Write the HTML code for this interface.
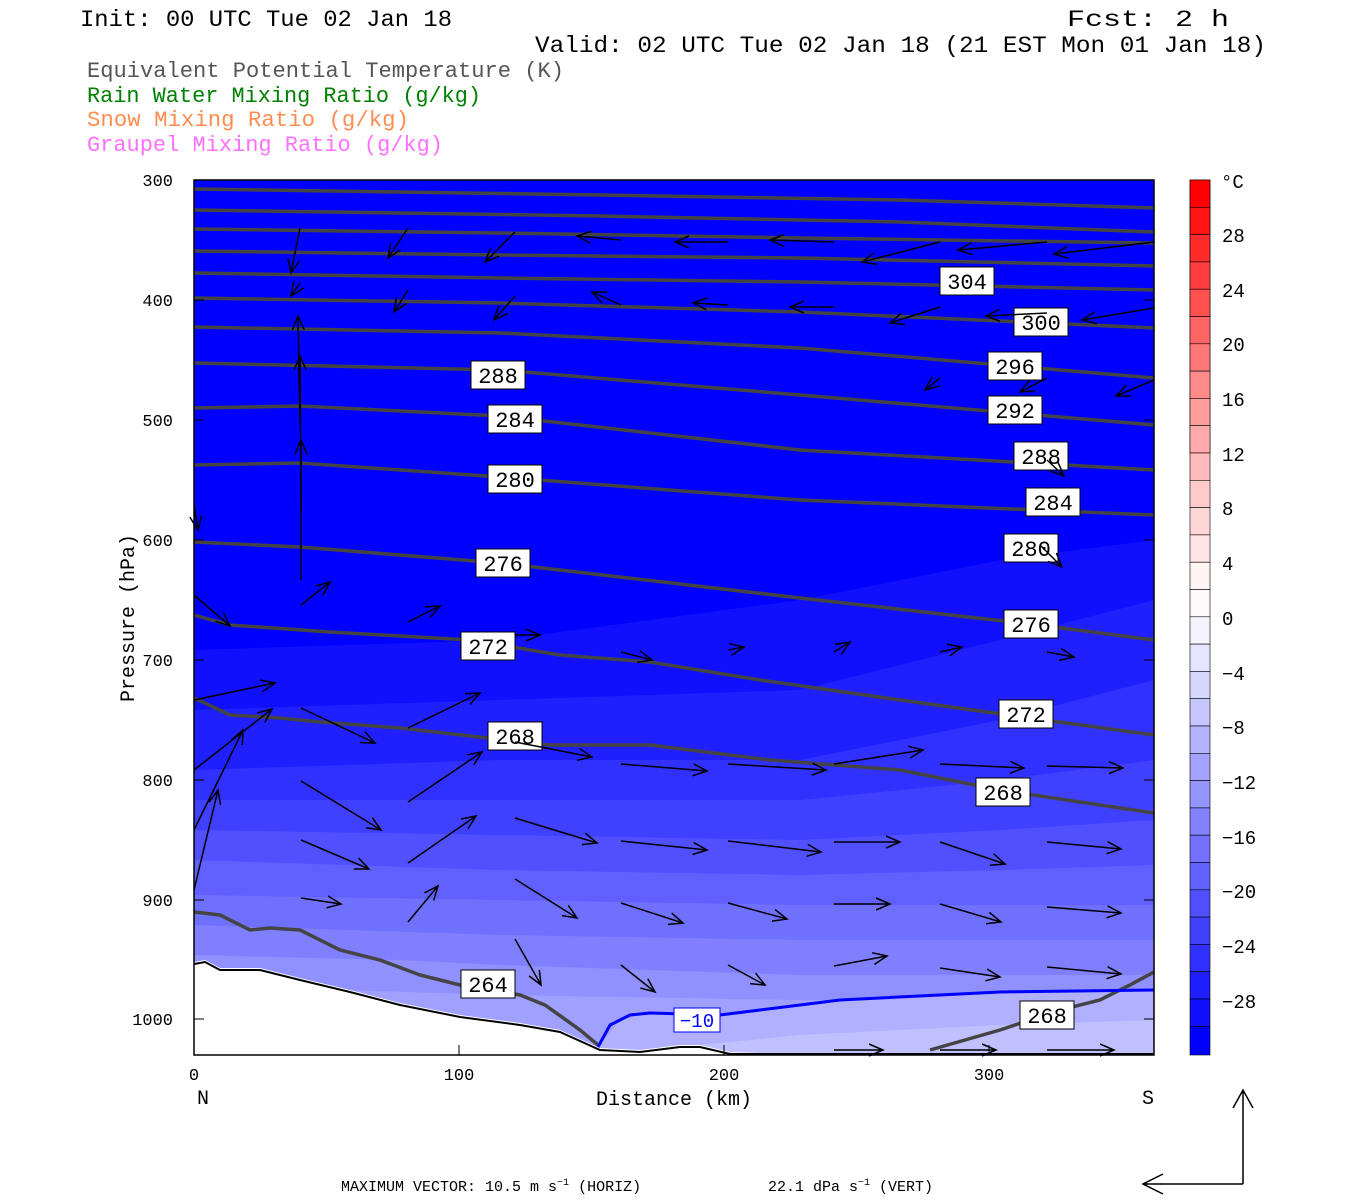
<!DOCTYPE html>
<html><head><meta charset="utf-8"><style>
body{margin:0;background:#fff;}
svg{display:block;}
text{font-family:"Liberation Mono","DejaVu Sans Mono",monospace;}
</style></head><body>
<svg width="1350" height="1200" viewBox="0 0 1350 1200" xmlns="http://www.w3.org/2000/svg">
<defs>
<marker id="ah" markerUnits="userSpaceOnUse" markerWidth="20" markerHeight="20" refX="14" refY="7" orient="auto">
<path d="M0,1 L14,7 L0,13" fill="none" stroke="#000" stroke-width="1.5"/>
</marker>
<clipPath id="pc"><rect x="194" y="180" width="960" height="875"/></clipPath>
</defs>

<!-- titles -->
<text x="80" y="26" font-size="23" textLength="372" lengthAdjust="spacingAndGlyphs">Init: 00 UTC Tue 02 Jan 18</text>
<text x="1067" y="26" font-size="23" textLength="162" lengthAdjust="spacingAndGlyphs">Fcst:   2 h</text>
<text x="535" y="52" font-size="23" textLength="731" lengthAdjust="spacingAndGlyphs">Valid: 02 UTC Tue 02 Jan 18 (21 EST Mon 01 Jan 18)</text>
<text x="87" y="77" font-size="22" fill="#555" textLength="477" lengthAdjust="spacingAndGlyphs">Equivalent Potential Temperature (K)</text>
<text x="87" y="102" font-size="22" fill="#008000" textLength="394" lengthAdjust="spacingAndGlyphs">Rain Water Mixing Ratio (g/kg)</text>
<text x="87" y="126" font-size="22" fill="#ff8c50" textLength="322" lengthAdjust="spacingAndGlyphs">Snow Mixing Ratio (g/kg)</text>
<text x="87" y="151" font-size="22" fill="#ff70ff" textLength="356" lengthAdjust="spacingAndGlyphs">Graupel Mixing Ratio (g/kg)</text>

<!-- fill -->
<g clip-path="url(#pc)">
<rect x="194" y="180" width="960" height="875" fill="#0000ff"/>
<path d="M194,650 L500,640 L800,600 L1000,560 L1154,540 L1154,1060 L194,1060Z" fill="#1010ff"/>
<path d="M194,710 L500,700 L800,690 L1000,640 L1154,600 L1154,1060 L194,1060Z" fill="#2020ff"/>
<path d="M194,770 L500,760 L800,760 L1000,720 L1154,680 L1154,1060 L194,1060Z" fill="#3030ff"/>
<path d="M194,800 L500,800 L800,800 L1000,780 L1154,760 L1154,1060 L194,1060Z" fill="#4040ff"/>
<path d="M194,830 L500,835 L800,840 L1000,830 L1154,820 L1154,1060 L194,1060Z" fill="#5050ff"/>
<path d="M194,860 L500,870 L800,875 L1000,870 L1154,865 L1154,1060 L194,1060Z" fill="#6060ff"/>
<path d="M194,895 L500,900 L800,905 L1000,905 L1154,905 L1154,1060 L194,1060Z" fill="#7070ff"/>
<path d="M194,925 L500,935 L800,940 L1000,940 L1154,940 L1154,1060 L194,1060Z" fill="#8080ff"/>
<path d="M194,955 L400,960 L500,965 L800,975 L1000,975 L1154,975 L1154,1060 L194,1060Z" fill="#9090ff"/>
<path d="M194,985 L500,995 L800,1000 L1000,1000 L1154,995 L1154,1060 L194,1060Z" fill="#a0a0ff"/>
<path d="M600,1045 L620,1020 L650,1013 L720,1015 L760,1010 L840,1000 L1000,992 L1154,990 L1154,1060 L600,1060Z" fill="#b0b0ff"/>
<path d="M700,1045 L800,1035 L1000,1025 L1154,1020 L1154,1060 L700,1060Z" fill="#c0c0ff"/>
<!-- terrain -->
<path d="M194,962 L205,960 L220,968 L260,968 L300,978 L350,990 L400,1003 L460,1015 L520,1023 L560,1030 L600,1048 L640,1050 L680,1045 L700,1045 L730,1052 L760,1053 L1154,1053 L1154,1060 L194,1060Z" fill="#fff"/>
<path d="M194,964 L205,962 L220,970 L260,970 L300,980 L350,992 L400,1005 L460,1017 L520,1025 L560,1032 L600,1050 L640,1052 L680,1047 L700,1047 L730,1054 L1154,1054" fill="none" stroke="#000" stroke-width="2"/>
<!-- theta contours -->
<g fill="none" stroke="#444" stroke-width="3.5">
<path d="M194,189 L600,195 L900,200 L1154,208"/>
<path d="M194,210 L600,216 L900,222 L1154,232"/>
<path d="M194,229 L500,233 L800,238 L1154,243"/>
<path d="M194,251 L500,255 L800,258 L1154,266"/>
<path d="M194,273 L500,278 L800,282 L1154,290"/>
<path d="M194,298 L500,303 L800,312 L1154,328"/>
<path d="M194,327 L500,333 L800,348 L1154,378"/>
<path d="M194,363 L500,370 L800,395 L1154,425"/>
<path d="M194,408 L300,406 L500,416 L800,450 L1154,470"/>
<path d="M194,465 L300,463 L500,477 L800,500 L1154,515"/>
<path d="M194,542 L300,547 L500,563 L800,598 L1030,624 L1154,640"/>
<path d="M194,615 L230,625 L330,632 L470,640 L560,655 L650,662 L760,680 L900,700 L1030,718 L1154,735"/>
<path d="M194,698 L230,715 L280,718 L320,722 L400,728 L550,745 L650,745 L770,760 L900,770 L1000,790 L1100,805 L1154,813"/>
<path d="M194,912 L220,915 L250,930 L270,928 L300,930 L340,950 L380,960 L420,975 L460,985 L520,995 L545,1005 L580,1030 L598,1045"/>
<path d="M930,1050 L1000,1030 L1060,1010 L1100,1000 L1130,985 L1154,972"/>
</g>
<path d="M598,1047 L610,1025 L630,1015 L650,1013 L720,1015 L760,1010 L840,1000 L1000,992 L1154,990" fill="none" stroke="#0000ff" stroke-width="3"/>
</g>

<!-- contour labels -->
<g font-size="22" text-anchor="middle" font-family="Liberation Serif, serif">
<g fill="#fff" stroke="#000" stroke-width="1">
<rect x="940" y="267" width="54" height="28"/><rect x="1014" y="308" width="54" height="28"/>
<rect x="988" y="352" width="54" height="28"/><rect x="988" y="396" width="54" height="28"/>
<rect x="1014" y="442" width="54" height="28"/><rect x="1026" y="488" width="54" height="28"/>
<rect x="1004" y="534" width="54" height="28"/><rect x="1004" y="610" width="54" height="28"/>
<rect x="999" y="700" width="54" height="28"/><rect x="976" y="778" width="54" height="28"/>
<rect x="471" y="361" width="54" height="28"/><rect x="488" y="405" width="54" height="28"/>
<rect x="488" y="465" width="54" height="28"/><rect x="476" y="549" width="54" height="28"/>
<rect x="461" y="632" width="54" height="28"/><rect x="488" y="722" width="54" height="28"/>
<rect x="461" y="970" width="54" height="28"/><rect x="1020" y="1001" width="54" height="28"/>
</g>
<text x="967" y="289">304</text><text x="1041" y="330">300</text><text x="1015" y="374">296</text>
<text x="1015" y="418">292</text><text x="1041" y="464">288</text><text x="1053" y="510">284</text>
<text x="1031" y="556">280</text><text x="1031" y="632">276</text><text x="1026" y="722">272</text>
<text x="1003" y="800">268</text><text x="498" y="383">288</text><text x="515" y="427">284</text>
<text x="515" y="487">280</text><text x="503" y="571">276</text><text x="488" y="654">272</text>
<text x="515" y="744">268</text><text x="488" y="992">264</text><text x="1047" y="1023">268</text>
<rect x="674" y="1008" width="46" height="24" fill="#fff" stroke="#0000ff"/>
<text x="697" y="1027" fill="#0000ff" font-size="19">−10</text>
</g>

<!-- arrows -->
<g stroke="#000" stroke-width="1.5" marker-end="url(#ah)">
<line x1="300" y1="228" x2="291" y2="273"/><line x1="408" y1="228" x2="388" y2="258"/><line x1="515" y1="232" x2="485" y2="262"/>
<line x1="621" y1="240" x2="577" y2="236"/><line x1="728" y1="242" x2="675" y2="242"/><line x1="834" y1="242" x2="770" y2="240"/>
<line x1="940" y1="242" x2="862" y2="262"/><line x1="1047" y1="242" x2="958" y2="250"/><line x1="1154" y1="242" x2="1054" y2="254"/>
<line x1="300" y1="283" x2="291" y2="296"/><line x1="408" y1="290" x2="394" y2="312"/><line x1="515" y1="296" x2="494" y2="320"/>
<line x1="621" y1="305" x2="592" y2="292"/><line x1="728" y1="305" x2="693" y2="303"/><line x1="834" y1="307" x2="790" y2="307"/>
<line x1="940" y1="307" x2="890" y2="323"/><line x1="1047" y1="313" x2="986" y2="316"/><line x1="1154" y1="308" x2="1082" y2="320"/>
<line x1="300" y1="425" x2="298" y2="316"/><line x1="301" y1="510" x2="300" y2="356"/><line x1="301" y1="580" x2="301" y2="440"/>
<line x1="1047" y1="378" x2="1020" y2="392"/><line x1="940" y1="378" x2="925" y2="390"/><line x1="1154" y1="380" x2="1116" y2="396"/>
<line x1="1047" y1="460" x2="1064" y2="476"/><line x1="1040" y1="545" x2="1062" y2="567"/>
<line x1="194" y1="505" x2="198" y2="530"/><line x1="301" y1="605" x2="330" y2="582"/><line x1="408" y1="622" x2="440" y2="606"/>
<line x1="194" y1="595" x2="230" y2="626"/><line x1="515" y1="635" x2="540" y2="635"/><line x1="621" y1="652" x2="652" y2="660"/>
<line x1="728" y1="650" x2="744" y2="647"/><line x1="834" y1="652" x2="850" y2="642"/><line x1="940" y1="652" x2="962" y2="647"/>
<line x1="1047" y1="652" x2="1074" y2="657"/>
<line x1="194" y1="700" x2="275" y2="683"/><line x1="301" y1="708" x2="375" y2="743"/><line x1="408" y1="728" x2="480" y2="693"/>
<line x1="515" y1="742" x2="592" y2="757"/><line x1="621" y1="764" x2="707" y2="771"/><line x1="728" y1="764" x2="826" y2="770"/>
<line x1="834" y1="764" x2="923" y2="750"/><line x1="940" y1="764" x2="1024" y2="768"/><line x1="1047" y1="766" x2="1123" y2="768"/>
<line x1="194" y1="770" x2="272" y2="709"/><line x1="194" y1="830" x2="243" y2="730"/><line x1="194" y1="890" x2="218" y2="790"/>
<line x1="301" y1="781" x2="381" y2="830"/><line x1="408" y1="802" x2="482" y2="752"/>
<line x1="515" y1="818" x2="597" y2="843"/><line x1="621" y1="841" x2="707" y2="850"/><line x1="728" y1="841" x2="821" y2="852"/>
<line x1="834" y1="842" x2="900" y2="842"/><line x1="940" y1="842" x2="1005" y2="864"/><line x1="1047" y1="842" x2="1121" y2="849"/>
<line x1="301" y1="840" x2="369" y2="869"/><line x1="408" y1="863" x2="476" y2="816"/>
<line x1="301" y1="898" x2="341" y2="904"/><line x1="408" y1="922" x2="438" y2="886"/><line x1="515" y1="879" x2="577" y2="918"/>
<line x1="621" y1="903" x2="683" y2="923"/><line x1="728" y1="903" x2="787" y2="919"/><line x1="834" y1="904" x2="890" y2="904"/>
<line x1="940" y1="904" x2="1001" y2="922"/><line x1="1047" y1="907" x2="1121" y2="913"/>
<line x1="515" y1="939" x2="541" y2="985"/><line x1="621" y1="965" x2="655" y2="992"/><line x1="728" y1="965" x2="765" y2="985"/>
<line x1="834" y1="966" x2="887" y2="956"/><line x1="940" y1="968" x2="1000" y2="977"/><line x1="1047" y1="967" x2="1121" y2="974"/>
<line x1="834" y1="1050" x2="883" y2="1050"/><line x1="940" y1="1050" x2="996" y2="1050"/><line x1="1047" y1="1050" x2="1114" y2="1050"/>
</g>

<!-- frame & ticks -->
<rect x="194" y="180" width="960" height="875" fill="none" stroke="#000" stroke-width="1.5"/>
<g stroke="#000" stroke-width="1">
<path d="M194,180h10M194,300h10M194,420h10M194,540h10M194,660h10M194,780h10M194,900h10M194,1019h10
M1154,180h-10M1154,300h-10M1154,420h-10M1154,540h-10M1154,660h-10M1154,780h-10M1154,900h-10M1154,1019h-10
M459,1055v-10M724,1055v-10M989,1055v-10"/>
</g>
<g font-size="17" text-anchor="end" font-family="Liberation Serif, serif">
<text x="173" y="186">300</text><text x="173" y="306">400</text><text x="173" y="426">500</text>
<text x="173" y="546">600</text><text x="173" y="666">700</text><text x="173" y="786">800</text>
<text x="173" y="906">900</text><text x="173" y="1025">1000</text>
</g>
<g font-size="17" text-anchor="middle" font-family="Liberation Serif, serif">
<text x="194" y="1080">0</text><text x="459" y="1080">100</text><text x="724" y="1080">200</text><text x="989" y="1080">300</text>
<text x="203" y="1104" font-size="20">N</text><text x="1148" y="1104" font-size="20">S</text>
<text x="674" y="1105" font-size="20">Distance (km)</text>
<text transform="translate(134,618) rotate(-90)" font-size="20">Pressure (hPa)</text>
</g>

<!-- colorbar -->
<g stroke="#000" stroke-width="0.6">
<rect x="1190" y="180.0" width="20" height="13.7" fill="#ff0000"/><rect x="1190" y="193.7" width="20" height="13.7" fill="#ff1010"/>
<rect x="1190" y="207.3" width="20" height="13.7" fill="#ff2020"/><rect x="1190" y="221.0" width="20" height="13.7" fill="#ff3030"/>
<rect x="1190" y="234.7" width="20" height="13.7" fill="#ff4040"/><rect x="1190" y="248.4" width="20" height="13.7" fill="#ff5050"/>
<rect x="1190" y="262.0" width="20" height="13.7" fill="#ff6060"/><rect x="1190" y="275.7" width="20" height="13.7" fill="#ff7070"/>
<rect x="1190" y="289.4" width="20" height="13.7" fill="#ff8080"/><rect x="1190" y="303.0" width="20" height="13.7" fill="#ff9090"/>
<rect x="1190" y="316.7" width="20" height="13.7" fill="#ffa0a0"/><rect x="1190" y="330.4" width="20" height="13.7" fill="#ffb0b0"/>
<rect x="1190" y="344.1" width="20" height="13.7" fill="#ffc0c0"/><rect x="1190" y="357.7" width="20" height="13.7" fill="#ffd0d0"/>
<rect x="1190" y="371.4" width="20" height="13.7" fill="#ffe5e5"/><rect x="1190" y="385.1" width="20" height="13.7" fill="#fff5f5"/>
</g>
<g stroke="#000" stroke-width="0.6" transform="translate(0,218.75)">
<rect x="1190" y="180.0" width="20" height="27.3" fill="#ff1010"/><rect x="1190" y="207.3" width="20" height="27.3" fill="#ff2222"/>
</g>
<g stroke="#000" stroke-width="0.6">
<rect x="1190" y="180" width="20" height="27.3" fill="#ff0000"/><rect x="1190" y="207.3" width="20" height="27.3" fill="#ff1515"/>
<rect x="1190" y="234.6" width="20" height="27.3" fill="#ff2a2a"/><rect x="1190" y="261.9" width="20" height="27.3" fill="#ff3f3f"/>
<rect x="1190" y="289.2" width="20" height="27.3" fill="#ff5050"/><rect x="1190" y="316.5" width="20" height="27.3" fill="#ff6565"/>
<rect x="1190" y="343.8" width="20" height="27.3" fill="#ff7878"/><rect x="1190" y="371.1" width="20" height="27.3" fill="#ff8a8a"/>
<rect x="1190" y="398.4" width="20" height="27.3" fill="#ff9c9c"/><rect x="1190" y="425.7" width="20" height="27.3" fill="#ffaaaa"/>
<rect x="1190" y="453.0" width="20" height="27.3" fill="#ffbbbb"/><rect x="1190" y="480.3" width="20" height="27.3" fill="#ffcaca"/>
<rect x="1190" y="507.6" width="20" height="27.3" fill="#ffd6d6"/><rect x="1190" y="534.9" width="20" height="27.3" fill="#ffe4e4"/>
<rect x="1190" y="562.2" width="20" height="27.3" fill="#fff4f4"/><rect x="1190" y="589.5" width="20" height="27.3" fill="#fffafa"/>
<rect x="1190" y="616.8" width="20" height="27.3" fill="#f4f4ff"/><rect x="1190" y="644.1" width="20" height="27.3" fill="#e5e5ff"/>
<rect x="1190" y="671.4" width="20" height="27.3" fill="#d6d6ff"/><rect x="1190" y="698.7" width="20" height="27.3" fill="#c6c6ff"/>
<rect x="1190" y="726.0" width="20" height="27.3" fill="#b3b3ff"/><rect x="1190" y="753.3" width="20" height="27.3" fill="#a3a3ff"/>
<rect x="1190" y="780.6" width="20" height="27.3" fill="#9595ff"/><rect x="1190" y="807.9" width="20" height="27.3" fill="#8282ff"/>
<rect x="1190" y="835.2" width="20" height="27.3" fill="#7272ff"/><rect x="1190" y="862.5" width="20" height="27.3" fill="#6262ff"/>
<rect x="1190" y="889.8" width="20" height="27.3" fill="#5050ff"/><rect x="1190" y="917.1" width="20" height="27.3" fill="#4040ff"/>
<rect x="1190" y="944.4" width="20" height="27.3" fill="#3030ff"/><rect x="1190" y="971.7" width="20" height="27.3" fill="#2020ff"/>
<rect x="1190" y="999.0" width="20" height="27.3" fill="#1010ff"/><rect x="1190" y="1026.3" width="20" height="28.7" fill="#0000ff"/>
</g>
<g font-size="19" font-family="Liberation Serif, serif">
<text x="1221" y="188">°C</text>
<text x="1222" y="242">28</text><text x="1222" y="297">24</text><text x="1222" y="351">20</text>
<text x="1222" y="406">16</text><text x="1222" y="461">12</text><text x="1222" y="515">8</text>
<text x="1222" y="570">4</text><text x="1222" y="625">0</text><text x="1222" y="680">−4</text>
<text x="1222" y="734">−8</text><text x="1222" y="789">−12</text><text x="1222" y="844">−16</text>
<text x="1222" y="898">−20</text><text x="1222" y="953">−24</text><text x="1222" y="1008">−28</text>
</g>

<!-- reference vector -->
<g stroke="#000" stroke-width="1.5" fill="none">
<path d="M1243,1184 V1090 M1233,1108 L1243,1090 L1253,1108"/>
<path d="M1243,1184 H1143 M1163,1174 L1143,1184 L1163,1194"/>
</g>
<text x="341" y="1191" font-size="15" font-family="Liberation Serif, serif">MAXIMUM VECTOR:  10.5 m s<tspan dy="-6" font-size="10">−1</tspan><tspan dy="6"> (HORIZ)</tspan></text>
<text x="768" y="1191" font-size="15" font-family="Liberation Serif, serif">22.1 dPa s<tspan dy="-6" font-size="10">−1</tspan><tspan dy="6"> (VERT)</tspan></text>
</svg>
</body></html>
